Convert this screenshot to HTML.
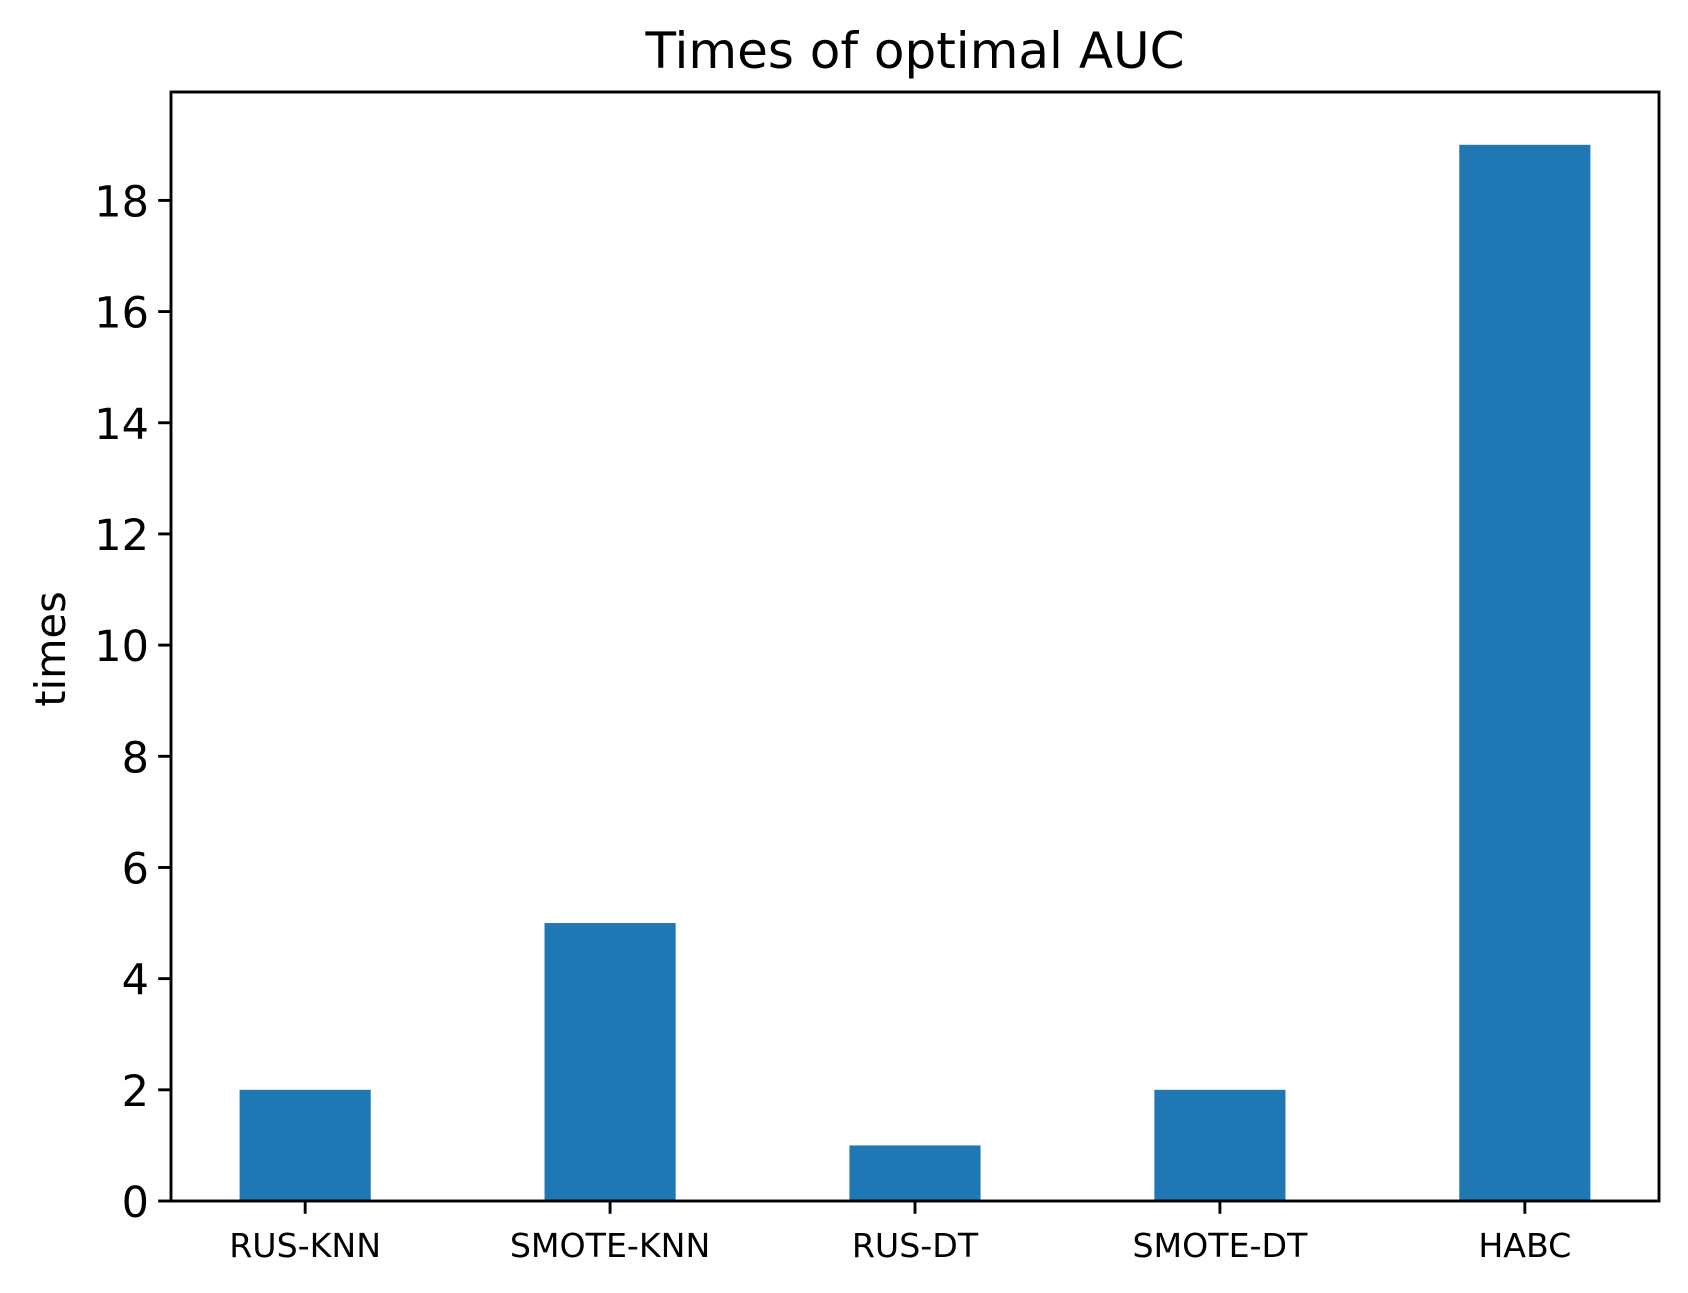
<!DOCTYPE html>
<html><head><meta charset="utf-8">
<style>
html,body{margin:0;padding:0;background:#fff;}
svg{display:block;font-family:"DejaVu Sans","Liberation Sans",sans-serif;}
</style></head>
<body>
<svg id="chart" width="1688" height="1293" viewBox="0 0 1688 1293" xmlns="http://www.w3.org/2000/svg">
<rect width="1688" height="1293" fill="#fff"/>
<text x="915" y="68" font-size="50" text-anchor="middle" fill="#000">Times of optimal AUC</text>
<text x="0" y="0" font-size="41.5" text-anchor="middle" fill="#000" transform="translate(65,649) rotate(-90)">times</text>
<g id="bars"></g>
<g id="yticks"></g>
<g id="xticks"></g>
<rect x="171" y="92" width="1488" height="1109" fill="none" stroke="#000" stroke-width="2.9"/>
</svg>
<script>
const categories = ["RUS-KNN","SMOTE-KNN","RUS-DT","SMOTE-DT","HABC"];
const values = [2,5,1,2,19];
const yTicks = [0,2,4,6,8,10,12,14,16,18];

const L=171,R=1659,T=92,B=1201;
const xMin=-0.44,xMax=4.44,yMin=0,yMax=19.95;
function xs(i){return L+(i-xMin)/(xMax-xMin)*(R-L);}
function ys(v){return B-(v-yMin)/(yMax-yMin)*(B-T);}
const NS="http://www.w3.org/2000/svg";
const barW=0.43;
const gb=document.getElementById('bars');
values.forEach((v,i)=>{
  const r=document.createElementNS(NS,'rect');
  const x0=xs(i-barW/2),x1=xs(i+barW/2);
  r.setAttribute('x',x0);r.setAttribute('width',x1-x0);
  r.setAttribute('y',ys(v));r.setAttribute('height',ys(0)-ys(v));
  r.setAttribute('fill','#1f77b4');
  
  
  gb.appendChild(r);
});
const gy=document.getElementById('yticks');
yTicks.forEach(t=>{
  const y=ys(t);
  const l=document.createElementNS(NS,'line');
  l.setAttribute('x1',L-12.8);l.setAttribute('x2',L);l.setAttribute('y1',y);l.setAttribute('y2',y);
  l.setAttribute('stroke','#000');l.setAttribute('stroke-width','2.9');
  
  
  gy.appendChild(l);
  const tx=document.createElementNS(NS,'text');
  tx.setAttribute('x',L-22);tx.setAttribute('y',y+16);
  tx.setAttribute('font-size','43');tx.setAttribute('text-anchor','end');
  tx.textContent=t;
  
  
  gy.appendChild(tx);
});
const gx=document.getElementById('xticks');
categories.forEach((c,i)=>{
  const x=xs(i);
  const l=document.createElementNS(NS,'line');
  l.setAttribute('x1',x);l.setAttribute('x2',x);l.setAttribute('y1',B);l.setAttribute('y2',B+12.8);
  l.setAttribute('stroke','#000');l.setAttribute('stroke-width','2.9');
  
  
  gx.appendChild(l);
  const tx=document.createElementNS(NS,'text');
  tx.setAttribute('x',x);tx.setAttribute('y',1257);
  tx.setAttribute('font-size','33.2');tx.setAttribute('text-anchor','middle');
  tx.textContent=c;
  
  
  gx.appendChild(tx);
});
</script>
</body></html>
